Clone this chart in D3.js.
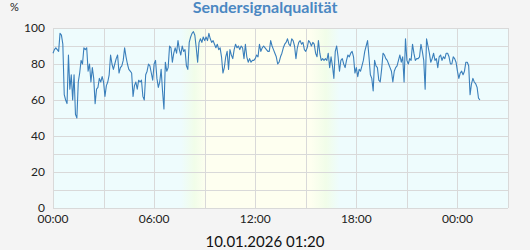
<!DOCTYPE html>
<html>
<head>
<meta charset="utf-8">
<title>Sendersignalqualität</title>
<style>
  body { margin: 0; background: #f4f4f4; }
  svg { display: block; font-family: Lato, sans-serif; }
  .grid line { stroke: #d9d9d9; stroke-width: 1px; shape-rendering: crispEdges; }
  .tick-label { font-size: 12px; fill: #222; }
</style>
</head>
<body>
<div id="chart"></div>
<script src="https://cdn.jsdelivr.net/npm/d3@7"></script>
<script>
// start of the series and sampling step (minutes)
var startTime = new Date(2026, 0, 9, 0, 0);
var stepMinutes = 5;

// signal quality in %, one value every 5 minutes
var quality = [
  86,88,89,88,87,97,96,91,63,60, 58,85,66,74,60,74,52,50,70,75,
  82,80,89,88,89,76,80,70,78,72, 58,66,67,72,70,73,70,62,68,70,
  74,85,80,77,80,83,85,75,78,79, 82,89,84,80,77,76,75,62,68,70,
  66,71,70,71,62,60,74,76,80,79, 75,71,80,82,72,67,70,77,65,55,
  81,76,78,90,89,81,86,89,86,93, 88,85,90,87,88,79,77,92,95,97,
  98,96,89,81,92,94,92,95,93,95, 93,97,94,92,93,91,89,91,88,89,
  84,75,78,84,87,77,88,85,83,88, 91,89,90,88,90,89,83,91,84,81,
  83,81,82,82,83,85,84,91,87,89, 90,89,88,87,87,93,90,88,86,84,
  80,81,84,86,89,91,92,94,91,90, 94,93,90,83,89,92,93,91,92,88,
  87,89,93,92,90,92,91,86,84,93, 86,82,83,82,83,82,86,78,84,79,
  72,87,90,84,76,82,83,80,78,82, 85,84,86,87,84,75,78,73,77,76,
  79,82,87,90,93,84,74,72,65,82, 79,78,71,70,77,86,85,83,82,80,
  78,76,70,76,78,79,82,85,81,84, 70,94,82,80,83,82,91,86,82,83,
  83,84,91,87,82,66,94,90,86,81, 83,86,82,83,78,84,85,82,84,83,
  86,86,84,80,80,84,83,81,76,72, 75,76,74,76,81,81,79,63,69,72,
  70,69,67,61,60
];

var xDomain = [new Date(2026, 0, 9, 0, 0), new Date(2026, 0, 10, 3, 0)];
var yTickValues = [0, 20, 40, 60, 80, 100];
var yGridValues = [0, 10, 20, 30, 40, 50, 60, 70, 80, 90, 100];
// daylight band (hours since start): dawn fade, day, dusk fade
var dayStops = [
  {h: 7.6, color: "#eefcfd"},
  {h: 8.4, color: "#f1fde9"},
  {h: 9.1, color: "#fefff0"},
  {h: 15.3, color: "#fefff0"},
  {h: 16.2, color: "#f1fde9"},
  {h: 17.0, color: "#eefcfd"}
];

var titleText = "Sendersignalqualität";
var unitText = "%";
var stampText = "10.01.2026 01:20";

var width = 530, height = 250;
var plotLeft = 53, plotRight = 508, plotTop = 28, plotBottom = 208;

var points = quality.map(function (v, i) {
  return {t: new Date(startTime.getTime() + i * stepMinutes * 60000), v: v};
});

var x = d3.scaleTime().domain(xDomain).range([plotLeft, plotRight]);
var y = d3.scaleLinear().domain([0, 100]).range([plotBottom, plotTop]);

var svg = d3.select("#chart").append("svg")
  .attr("width", width)
  .attr("height", height);

// background gradient for day / night
var grad = svg.append("defs").append("linearGradient")
  .attr("id", "daylight")
  .attr("gradientUnits", "userSpaceOnUse")
  .attr("x1", plotLeft).attr("x2", plotRight)
  .attr("y1", 0).attr("y2", 0);
grad.selectAll("stop")
  .data(dayStops)
  .enter().append("stop")
  .attr("offset", function (d) {
    var px = x(new Date(startTime.getTime() + d.h * 3600000));
    return (px - plotLeft) / (plotRight - plotLeft);
  })
  .attr("stop-color", function (d) { return d.color; });

svg.append("rect")
  .attr("x", plotLeft).attr("y", plotTop)
  .attr("width", plotRight - plotLeft).attr("height", plotBottom - plotTop)
  .attr("fill", "url(#daylight)");

// grid
var grid = svg.append("g").attr("class", "grid");
grid.selectAll(".hline")
  .data(yGridValues)
  .enter().append("line")
  .attr("x1", plotLeft).attr("x2", plotRight)
  .attr("y1", function (d) { return Math.round(y(d)) + 0.5; })
  .attr("y2", function (d) { return Math.round(y(d)) + 0.5; });

var vTicks = x.ticks(d3.timeHour.every(3));
vTicks.push(xDomain[1]);
grid.selectAll(".vline")
  .data(vTicks)
  .enter().append("line")
  .attr("y1", plotTop).attr("y2", plotBottom)
  .attr("x1", function (d) { return Math.round(x(d)) + 0.5; })
  .attr("x2", function (d) { return Math.round(x(d)) + 0.5; });

// y labels
svg.append("g").selectAll("text")
  .data(yTickValues)
  .enter().append("text")
  .attr("class", "tick-label")
  .attr("x", plotLeft - 8)
  .attr("y", function (d) { return y(d); })
  .attr("dy", "0.35em")
  .attr("text-anchor", "end")
  .text(function (d) { return d; });

// x labels
var fmt = d3.timeFormat("%H:%M");
svg.append("g").selectAll("text")
  .data(x.ticks(d3.timeHour.every(6)))
  .enter().append("text")
  .attr("class", "tick-label")
  .attr("x", function (d) { return x(d); })
  .attr("y", plotBottom + 15)
  .attr("text-anchor", "middle")
  .text(fmt);

// data line
var line = d3.line()
  .x(function (d) { return x(d.t); })
  .y(function (d) { return y(d.v); });

svg.append("path")
  .datum(points)
  .attr("fill", "none")
  .attr("stroke", "#3a7fbb")
  .attr("stroke-width", 1.1)
  .attr("stroke-linejoin", "round")
  .attr("d", line);

// texts
svg.append("text")
  .attr("x", 265).attr("y", 13)
  .attr("text-anchor", "middle")
  .style("font-size", "16px")
  .style("font-weight", "bold")
  .style("fill", "#4a87c2")
  .text(titleText);

svg.append("text")
  .attr("x", 10).attr("y", 11)
  .style("font-size", "11px")
  .style("fill", "#222")
  .text(unitText);

svg.append("text")
  .attr("x", 265).attr("y", 247)
  .attr("text-anchor", "middle")
  .style("font-size", "15px")
  .style("fill", "#111")
  .text(stampText);
</script>
</body>
</html>
